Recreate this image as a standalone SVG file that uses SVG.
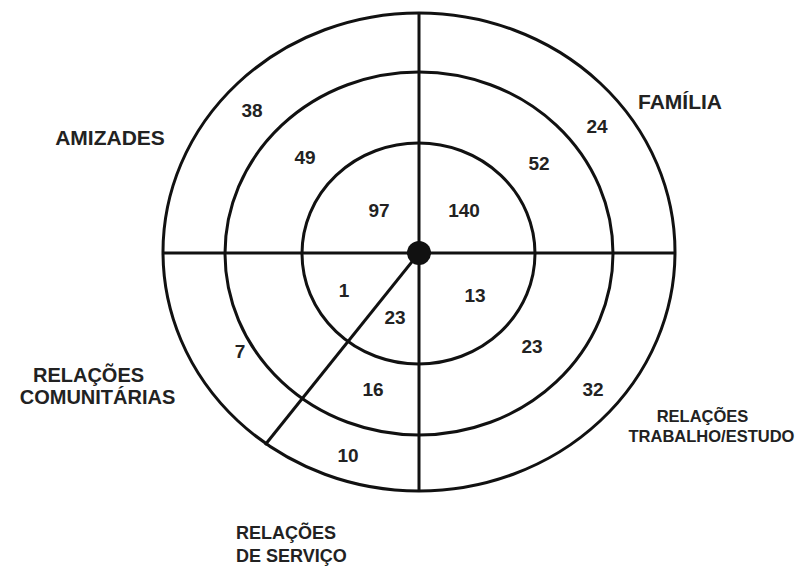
<svg xmlns="http://www.w3.org/2000/svg" width="797" height="567" viewBox="0 0 797 567">
<style>
.ring{fill:none;stroke:#111;stroke-width:3}
.ln{stroke:#111;stroke-width:3;fill:none}
.n{font-family:"Liberation Sans",Arial,sans-serif;font-weight:bold;font-size:19px;fill:#222;text-anchor:middle}
.lb{font-family:"Liberation Sans",Arial,sans-serif;font-weight:bold;font-size:20px;fill:#222;text-anchor:middle}
.sm{font-family:"Liberation Sans",Arial,sans-serif;font-weight:bold;font-size:16.5px;fill:#222;text-anchor:middle}
</style>
<rect width="797" height="567" fill="#fff"/>
<g id="rings">
<ellipse class="ring" cx="419" cy="252" rx="256" ry="239"/>
<ellipse class="ring" cx="419" cy="253.5" rx="194" ry="181.5"/>
<ellipse class="ring" cx="418.5" cy="253.5" rx="116.5" ry="110.5"/>
</g>
<g id="connectors">
<line class="ln" x1="419" y1="13" x2="419" y2="491"/>
<line class="ln" x1="163" y1="253" x2="675" y2="253"/>
<line class="ln" x1="419" y1="253" x2="265" y2="445"/>
<circle cx="419" cy="253" r="12" fill="#111"/>
</g>
<g id="values">
<text class="n" x="252" y="117">38</text>
<text class="n" x="597" y="133">24</text>
<text class="n" x="305" y="164">49</text>
<text class="n" x="539" y="170">52</text>
<text class="n" x="379" y="217">97</text>
<text class="n" x="464" y="217">140</text>
<text class="n" x="344" y="297">1</text>
<text class="n" x="395" y="324">23</text>
<text class="n" x="475" y="302">13</text>
<text class="n" x="532" y="353">23</text>
<text class="n" x="240" y="358">7</text>
<text class="n" x="373" y="396">16</text>
<text class="n" x="593" y="396">32</text>
<text class="n" x="348" y="462">10</text>
</g>
<g id="amizades"><text class="lb" x="110" y="145" style="font-size:21px">AMIZADES</text></g>
<g id="familia"><text class="lb" x="680" y="109" style="font-size:21px">FAMÍLIA</text></g>
<g id="comunitarias"><text class="lb" x="88.5" y="382">RELAÇÕES</text><text class="lb" x="97.5" y="404">COMUNITÁRIAS</text></g>
<g id="trabalho"><text class="sm" x="702.5" y="422">RELAÇÕES</text><text class="sm" x="711.5" y="442">TRABALHO/ESTUDO</text></g>
<g id="servico"><text class="lb" x="236" y="539" style="text-anchor:start;font-size:18px">RELAÇÕES</text><text class="lb" x="236" y="562" style="text-anchor:start;font-size:18px">DE SERVIÇO</text></g>
</svg>
